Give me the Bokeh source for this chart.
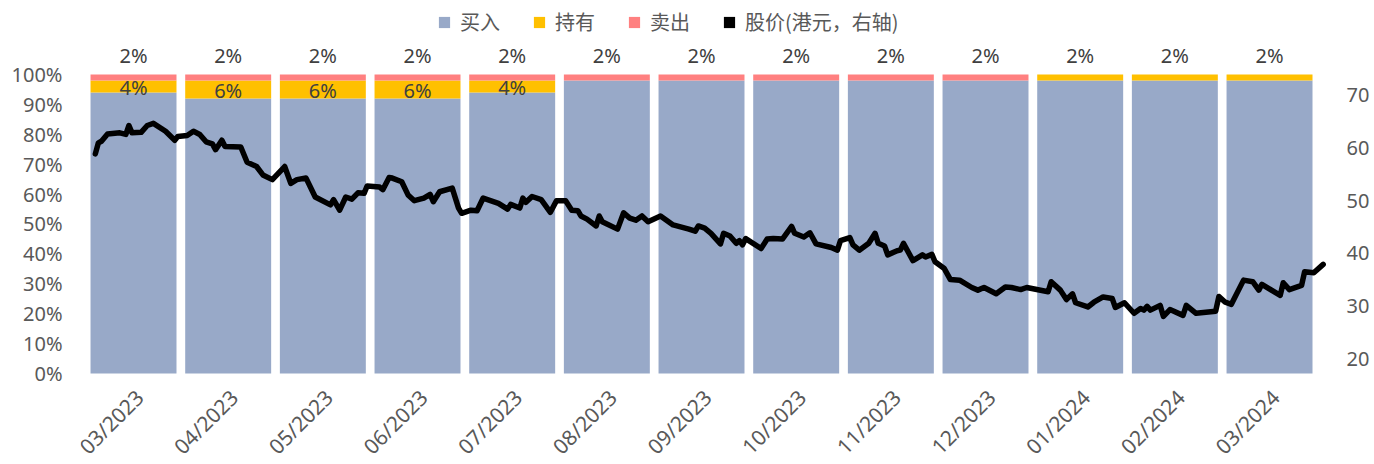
import math
import calendar
from datetime import date
from bokeh.plotting import figure
from bokeh.models import (ColumnDataSource, Range1d, LinearAxis, FixedTicker,
                          PrintfTickFormatter, Legend, LegendItem)
from bokeh.embed import file_html
from bokeh.resources import INLINE
from bokeh.core.properties import value

# ---------------- data ----------------
months = ["03/2023", "04/2023", "05/2023", "06/2023", "07/2023", "08/2023", "09/2023",
          "10/2023", "11/2023", "12/2023", "01/2024", "02/2024", "03/2024"]
buy = [94, 92, 92, 92, 94, 98, 98, 98, 98, 98, 98, 98, 98]
hold = [4, 6, 6, 6, 4, 0, 0, 0, 0, 0, 2, 2, 2]
sell = [2, 2, 2, 2, 2, 2, 2, 2, 2, 2, 0, 0, 0]

price_dates = [
    "2023-03-04", "2023-03-05", "2023-03-06", "2023-03-08", "2023-03-12", "2023-03-14", "2023-03-15",
    "2023-03-16", "2023-03-19", "2023-03-21", "2023-03-23", "2023-03-27", "2023-03-30", "2023-03-31",
    "2023-04-03", "2023-04-05", "2023-04-07", "2023-04-09", "2023-04-11", "2023-04-12", "2023-04-14",
    "2023-04-15", "2023-04-20", "2023-04-22", "2023-04-25", "2023-04-27", "2023-04-30",
    "2023-05-04", "2023-05-06", "2023-05-08", "2023-05-11", "2023-05-14", "2023-05-19", "2023-05-20",
    "2023-05-22", "2023-05-24", "2023-05-26", "2023-05-28", "2023-05-30", "2023-05-31",
    "2023-06-04", "2023-06-05", "2023-06-07", "2023-06-08", "2023-06-11", "2023-06-13", "2023-06-15",
    "2023-06-18", "2023-06-20", "2023-06-21", "2023-06-23", "2023-06-27", "2023-06-29", "2023-06-30",
    "2023-07-03", "2023-07-05", "2023-07-07", "2023-07-12", "2023-07-15", "2023-07-16", "2023-07-19",
    "2023-07-20", "2023-07-21", "2023-07-23", "2023-07-26", "2023-07-29", "2023-07-31",
    "2023-08-03", "2023-08-05", "2023-08-07", "2023-08-08", "2023-08-10", "2023-08-13", "2023-08-14",
    "2023-08-15", "2023-08-20", "2023-08-22", "2023-08-24", "2023-08-26", "2023-08-28", "2023-08-30",
    "2023-09-03", "2023-09-07", "2023-09-12", "2023-09-14", "2023-09-15", "2023-09-17", "2023-09-19",
    "2023-09-22", "2023-09-23", "2023-09-25", "2023-09-27", "2023-09-28", "2023-09-29", "2023-09-30",
    "2023-10-05", "2023-10-07", "2023-10-09", "2023-10-12", "2023-10-15", "2023-10-16", "2023-10-19",
    "2023-10-21", "2023-10-23", "2023-10-28", "2023-10-30", "2023-10-31",
    "2023-11-03", "2023-11-04", "2023-11-06", "2023-11-09", "2023-11-11", "2023-11-12", "2023-11-14",
    "2023-11-15", "2023-11-18", "2023-11-19", "2023-11-20", "2023-11-23", "2023-11-26", "2023-11-27",
    "2023-11-29", "2023-11-30",
    "2023-12-03", "2023-12-05", "2023-12-08", "2023-12-12", "2023-12-14", "2023-12-16", "2023-12-20",
    "2023-12-23", "2023-12-25", "2023-12-28", "2023-12-30",
    "2024-01-06", "2024-01-07", "2024-01-10", "2024-01-12", "2024-01-14", "2024-01-15", "2024-01-19",
    "2024-01-21", "2024-01-24", "2024-01-27", "2024-01-28", "2024-01-31",
    "2024-02-03", "2024-02-05", "2024-02-06", "2024-02-07", "2024-02-08", "2024-02-11", "2024-02-12",
    "2024-02-14", "2024-02-18", "2024-02-19", "2024-02-22", "2024-02-28", "2024-02-29",
    "2024-03-02", "2024-03-04", "2024-03-08", "2024-03-11", "2024-03-13", "2024-03-14", "2024-03-20",
    "2024-03-21", "2024-03-23", "2024-03-27", "2024-03-28", "2024-03-31", "2024-04-03",
]
prices = [
    58.9, 61.0, 61.3, 62.7, 62.9, 62.6, 64.3, 62.9, 63.0, 64.3, 64.7, 63.2, 61.5, 62.2,
    62.4, 63.2, 62.6, 61.2, 60.8, 59.7, 61.5, 60.3, 60.2, 57.3, 56.5, 54.9, 54.0,
    56.5, 53.3, 54.0, 54.3, 50.7, 49.2, 50.2, 48.2, 50.7, 50.3, 51.5, 51.4, 52.8,
    52.6, 52.1, 54.4, 54.3, 53.6, 51.1, 50.0, 50.5, 51.2, 49.8, 51.7, 52.4, 48.6, 47.6,
    48.2, 48.1, 50.5, 49.5, 48.4, 49.3, 48.6, 50.5, 49.7, 50.8, 50.2, 47.8, 50.0,
    50.0, 48.2, 48.1, 47.1, 46.5, 45.2, 47.1, 46.0, 44.6, 47.7, 46.7, 46.3, 47.1, 46.0,
    47.1, 45.4, 44.6, 44.2, 45.2, 44.8, 43.8, 41.8, 43.8, 43.3, 41.9, 42.4, 41.6, 42.8,
    40.9, 42.7, 42.8, 42.7, 45.1, 43.8, 43.1, 43.9, 41.8, 41.1, 40.6, 42.4,
    43.0, 41.6, 40.6, 41.9, 43.8, 41.9, 41.4, 39.7, 40.5, 40.6, 41.9, 38.6, 39.7, 39.3, 39.8, 38.4,
    37.1, 35.0, 34.9, 33.5, 33.0, 33.5, 32.3, 33.6, 33.5, 33.1, 33.5,
    32.7, 34.6, 33.0, 31.2, 32.3, 30.6, 29.8, 30.7, 31.7, 31.4, 29.7, 30.6,
    28.6, 29.5, 29.2, 29.9, 29.2, 30.1, 28.0, 29.3, 28.2, 30.1, 28.6, 29.0, 31.8,
    30.7, 30.3, 34.9, 34.6, 33.0, 34.1, 32.0, 34.4, 33.1, 33.9, 36.5, 36.3, 37.9,
]

legend_labels = ["买入", "持有", "卖出", "股价(港元，右轴)"]
colors = ["#98A9C8", "#FFC000", "#FF8080", "#000000"]

# ---------------- helpers ----------------
def month_pos(s):
    d = date.fromisoformat(s)
    mi = (d.year - 2023) * 12 + d.month - 3
    dim = calendar.monthrange(d.year, d.month)[1]
    return mi + (d.day - 1) / dim - 0.5

xs = list(range(len(months)))
src = ColumnDataSource(dict(x=xs, buy=buy, hold=hold, sell=sell,
                            zero=[0] * len(months), month=months))

NUM_FONT = "Noto Sans"
CJK_FONT = "Noto Sans CJK SC"

# the frame reaches the bottom of the canvas; 0% sits 89px above it and the
# rotated month labels are drawn in that strip
p = figure(width=1372, height=462, output_backend="svg", toolbar_location=None,
           x_range=Range1d(-0.560, 12.623), y_range=Range1d(-29.77, 124.75),
           min_border_left=80, min_border_right=44, min_border_top=0, min_border_bottom=0)
p.outline_line_color = None
p.xgrid.grid_line_color = None
p.ygrid.grid_line_color = None
p.background_fill_color = "white"
p.border_fill_color = "white"

bars = p.vbar_stack(["buy", "hold", "sell"], x="x", width=0.908, source=src,
                    fill_color=colors[:3], line_color=None)

# data labels
top_x, top_y, top_t = [], [], []
in_x, in_y, in_t = [], [], []
for i in xs:
    top_val = sell[i] if sell[i] > 0 else hold[i]
    top_x.append(i)
    top_y.append(buy[i] + hold[i] + sell[i])
    top_t.append(f"{top_val}%")
    if hold[i] > 0 and sell[i] > 0:
        in_x.append(i)
        in_y.append(buy[i] + hold[i] / 2)
        in_t.append(f"{hold[i]}%")

p.text(x=top_x, y=top_y, text=top_t, text_align="center", text_baseline="middle",
       y_offset=-19, text_font=value(NUM_FONT), text_font_size="20px", text_color="#404040")
p.text(x=in_x, y=in_y, text=in_t, text_align="center", text_baseline="middle",
       y_offset=1, text_font=value(NUM_FONT), text_font_size="20px", text_color="#404040")

# month (category) labels, rotated 45 degrees under each bar
p.text(x="x", y="zero", text="month", source=src, angle=math.pi / 4,
       text_align="right", text_baseline="middle", x_offset=6, y_offset=20,
       text_font=value(NUM_FONT), text_font_size="21px", text_color="#595959")

# price line
p.extra_y_ranges = {"price": Range1d(0.23, 88.06)}
line_x = [month_pos(s) for s in price_dates]
p.line(line_x, prices, y_range_name="price", line_color="black", line_width=5.5,
       line_join="round", line_cap="round")

# legend proxy for the price (square swatch, zero-height so nothing is drawn)
proxy = p.vbar(x=[0], top=[0], bottom=[0], width=0.01, fill_color="black", line_color=None)

# axes
p.xaxis.visible = False

ya = p.yaxis[0]
ya.ticker = FixedTicker(ticks=list(range(0, 101, 10)))
ya.formatter = PrintfTickFormatter(format="%d%%")
ya.major_label_text_font = NUM_FONT
ya.major_label_text_font_size = "20px"
ya.major_label_text_color = "#595959"
ya.axis_line_color = None
ya.major_tick_line_color = None
ya.minor_tick_line_color = None
ya.major_tick_out = 0
ya.major_label_standoff = 18

ra = LinearAxis(y_range_name="price", ticker=FixedTicker(ticks=[20, 30, 40, 50, 60, 70]))
ra.major_label_text_font = NUM_FONT
ra.major_label_text_font_size = "20px"
ra.major_label_text_color = "#595959"
ra.axis_line_color = None
ra.major_tick_line_color = None
ra.minor_tick_line_color = None
ra.major_tick_out = 0
ra.major_label_standoff = 18
p.add_layout(ra, "right")

legend = Legend(items=[LegendItem(label=legend_labels[0], renderers=[bars[0]]),
                       LegendItem(label=legend_labels[1], renderers=[bars[1]]),
                       LegendItem(label=legend_labels[2], renderers=[bars[2]]),
                       LegendItem(label=legend_labels[3], renderers=[proxy])],
                orientation="horizontal", location=(357, 426),
                glyph_width=14, glyph_height=14, label_standoff=9, spacing=32,
                padding=0, margin=0, border_line_color=None, background_fill_alpha=0,
                label_text_font=CJK_FONT, label_text_font_size="20px",
                label_text_color="#595959")
p.add_layout(legend)

open("out.html", "w").write(file_html(p, INLINE))
